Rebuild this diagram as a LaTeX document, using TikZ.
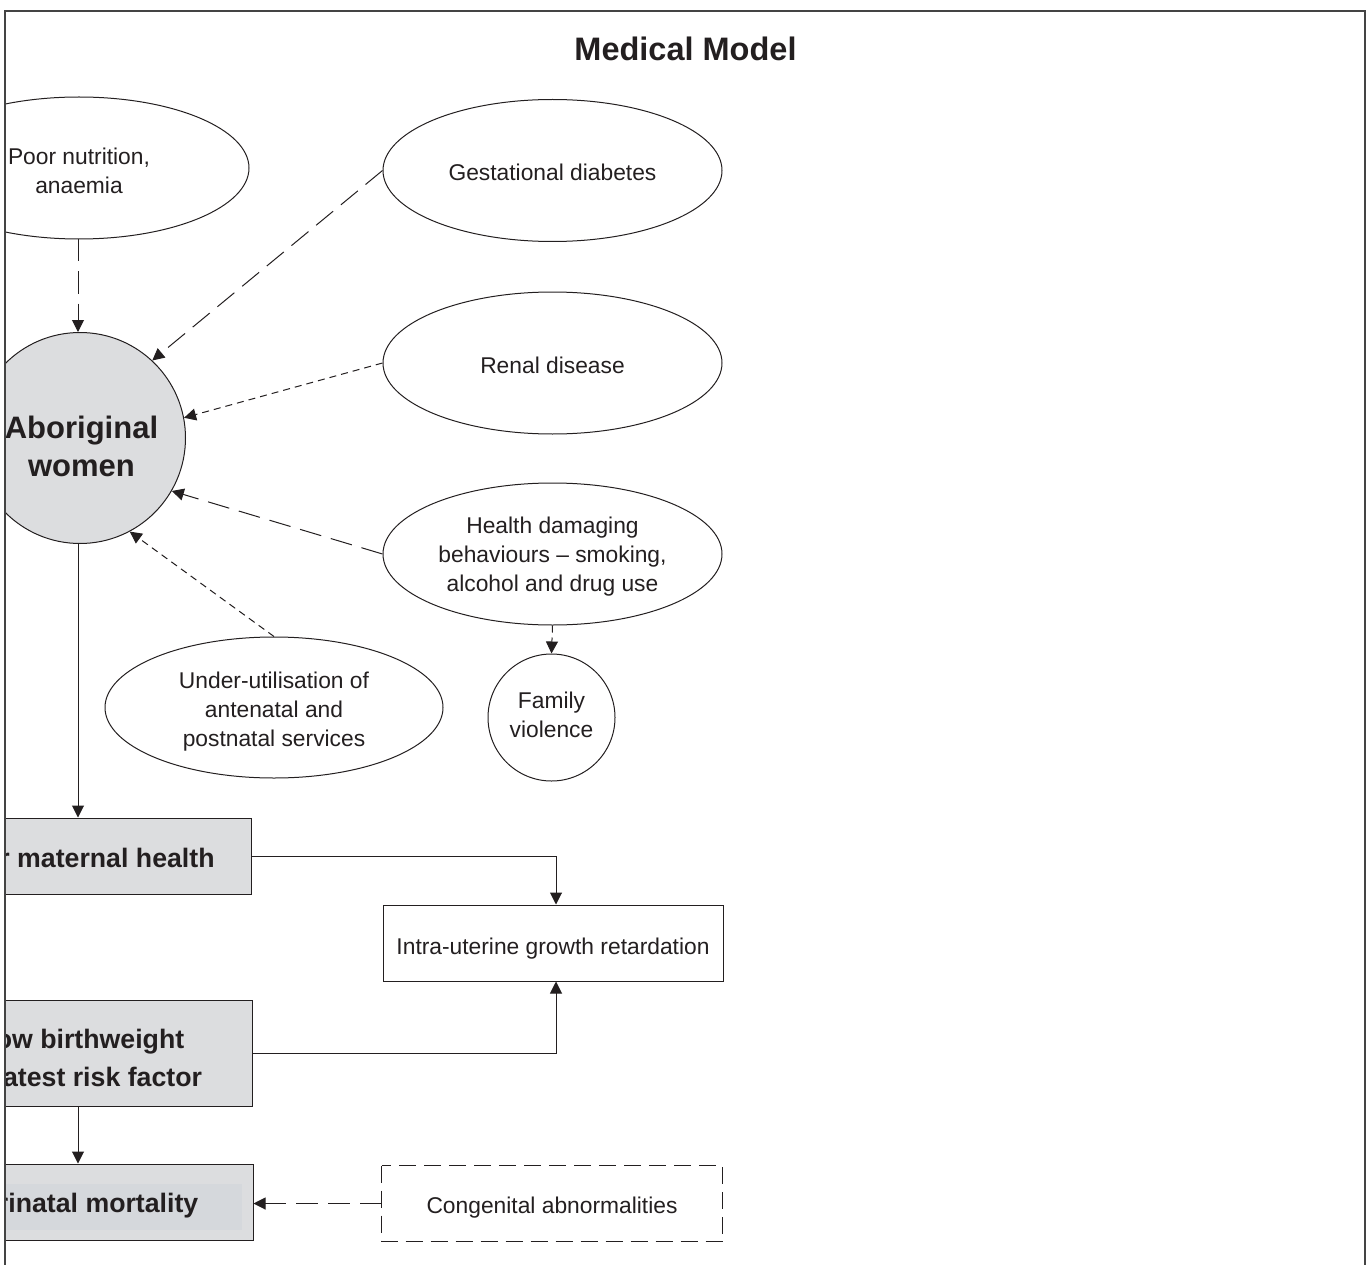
\documentclass[tikz,border=0pt]{standalone}
\usepackage{fontspec}
\setmainfont{Liberation Sans}
\usetikzlibrary{shapes.geometric,arrows.meta,calc}
\definecolor{ink}{HTML}{231F20}
\definecolor{boxgray}{HTML}{DCDDDF}
\definecolor{innergray}{HTML}{D5D8DC}
\definecolor{framegray}{HTML}{444444}
\newcommand{\topstrut}[1]{\rule{0pt}{#1}}
\newcommand{\botstrut}{\rule[-8pt]{0pt}{8pt}}
\begin{document}
\begin{tikzpicture}[x=1pt,y=-1pt,
  every node/.style={inner sep=0pt, text=ink},
  plaintxt/.style={font=\fontsize{22.8}{29}\selectfont},
  boldtxt/.style={font=\fontsize{26.7}{38}\selectfont\bfseries},
  oval/.style={ellipse, draw=ink, line width=1pt, minimum width=339pt, minimum height=142pt, align=center, plaintxt},
  roundnode/.style={circle, draw=ink, line width=1pt, align=center, plaintxt},
  graybox/.style={rectangle, draw=ink, line width=1pt, fill=boxgray},
  plainbox/.style={rectangle, draw=ink, line width=1pt, minimum width=340pt, minimum height=76pt, plaintxt},
  arr/.style={draw=ink, line width=1pt, -{Triangle[length=12pt,width=12pt]}},
  longdash/.style={dash pattern=on 22pt off 10pt},
  shortdash/.style={dash pattern=on 7pt off 5pt},
]
\useasboundingbox (0,0) rectangle (1370,1265);

\node[font=\fontsize{32.5}{38}\selectfont\bfseries, anchor=base] (title) at (685.5,61) {Medical Model};

\begin{scope}
\clip (5,0) rectangle (1370,1265);

% ellipses
\node[oval, minimum width=340pt] (poor) at (79,168) {\topstrut{31pt}Poor nutrition,\\anaemia\botstrut};
\node[oval, text height=20pt, text depth=0pt] (gest) at (552.5,170.5) {Gestational diabetes};
\node[oval, text height=20pt, text depth=0pt] (renal) at (552.5,363) {Renal disease};
\node[oval] (health) at (552.5,554) {\topstrut{24pt}Health damaging\\behaviours -- smoking,\\alcohol and drug use\botstrut};
\node[oval, minimum width=338pt, minimum height=141pt] (under) at (274,707.5) {\topstrut{27pt}Under-utilisation of\\antenatal and\\postnatal services\botstrut};
\node[roundnode, minimum size=127pt] (fam) at (551.5,717.5) {\topstrut{18.6pt}Family\\violence\botstrut};

% central circle
\node[circle, draw=ink, fill=boxgray, line width=1pt, minimum size=211pt] (aw) at (80,438) {};
\node[anchor=north, align=center, font=\fontsize{31}{38}\selectfont\bfseries] (awtext) at (81.5,416) {Aboriginal\\women};

% boxes on the left
\node[graybox, minimum width=338pt, minimum height=76pt] (mat) at (82,856) {};
\node[boldtxt, anchor=base east] (matlabel) at (214.8,867) {r maternal health};

\node[graybox, minimum width=340pt, minimum height=106pt] (lbw) at (82,1053) {};
\node[boldtxt, anchor=base east] (lbwlabelA) at (184.4,1048) {ow birthweight};
\node[boldtxt, anchor=base east] (lbwlabelB) at (202.2,1086) {atest risk factor};

\node[graybox, minimum width=342pt, minimum height=76pt] (per) at (82,1202) {};
\fill[innergray] (-78,1184) rectangle (242,1230);
\node[boldtxt, anchor=base east] (perlabel) at (198.5,1212) {rinatal mortality};

% boxes on the right
\node[plainbox, text height=23pt, text depth=0pt] (iugr) at (553,943) {Intra-uterine growth retardation};
\node[plainbox, draw=none, minimum width=340pt, minimum height=75pt, text height=20.5pt, text depth=0pt] (cong) at (552,1203.5) {Congenital abnormalities};
\draw[ink, line width=1pt, dash pattern=on 17pt off 8pt] (cong.north west) rectangle (cong.south east);

% connectors
\draw[arr,longdash] ([xshift=-1pt]poor.south) -- ([xshift=-1pt]poor.south |- aw.north);
\draw[arr,longdash] (gest.west) -- (aw.47);
\draw[arr,shortdash] (renal.west) -- (aw.11);
\draw[arr,longdash] (health.west) -- (aw.-30);
\draw[arr,shortdash] (under.north) -- (aw.-62);
\draw[arr,shortdash] (health.south) -- (fam.north);
\draw[arr] ([xshift=-2pt]aw.south) -- ([xshift=-2pt]aw.south |- mat.north);
\draw[arr] (mat.east) -| ([xshift=3pt]iugr.north);
\draw[arr] (lbw.east) -| ([xshift=3pt]iugr.south);
\draw[arr] ([xshift=-4pt]lbw.south) -- ([xshift=-4pt]per.north);
\draw[arr,longdash] (cong.west) -- (cong.west -| per.east);
\end{scope}

% frame
\draw[framegray, line width=1.3pt] (5,1280) -- (5,11) -- (1365,11) -- (1365,1280);
\end{tikzpicture}
\end{document}
